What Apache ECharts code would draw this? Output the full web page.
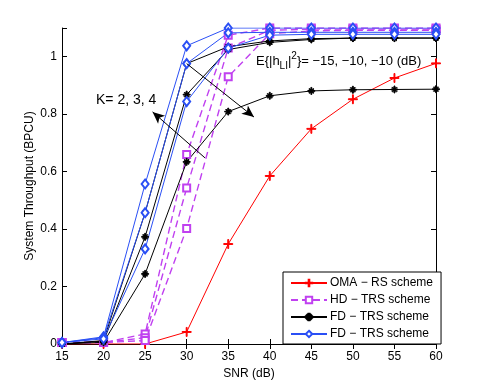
<!DOCTYPE html>
<html lang="en">
<head>
    <meta charset="UTF-8">
    <title>System throughput vs SNR</title>
    <script src="https://cdn.jsdelivr.net/npm/echarts@6/dist/echarts.min.js"></script>
    <style>
        html, body { margin: 0; padding: 0; background: #fff; }
        #main { width: 482px; height: 388px; }
    </style>
</head>
<body>
<div id="main"></div>

<script type="text/javascript">
    // 横轴 SNR
    var snr = [15, 20, 25, 30, 35, 40, 45, 50, 55, 60];
    var yTicks = [0, 0.2, 0.4, 0.6, 0.8, 1];

    // OMA - RS
    var oma = [0, 0, 0, 0.042, 0.348, 0.585, 0.749, 0.852, 0.926, 0.977];

    // HD - TRS (三条)
    var hd1 = [0.005, 0.005, 0.035, 0.660, 1.075, 1.100, 1.100, 1.100, 1.100, 1.100];
    var hd2 = [0.005, 0.005, 0.022, 0.543, 1.030, 1.092, 1.096, 1.096, 1.096, 1.096];
    var hd3 = [0.005, 0.005, 0.012, 0.402, 0.930, 1.080, 1.090, 1.092, 1.092, 1.092];

    // FD - TRS, 黑色星号 (E{|h_LI|^2})
    var fdA1 = [0, 0.012, 0.457, 0.976, 1.035, 1.055, 1.063, 1.065, 1.065, 1.065];
    var fdA2 = [0, 0.010, 0.373, 0.868, 1.025, 1.050, 1.060, 1.065, 1.065, 1.065];
    var fdA3 = [0, 0.006, 0.244, 0.634, 0.809, 0.864, 0.881, 0.885, 0.886, 0.887];

    // FD - TRS, 蓝色菱形 (K = 2, 3, 4)
    var fdB1 = [0.005, 0.025, 0.557, 1.038, 1.100, 1.100, 1.100, 1.100, 1.100, 1.100];
    var fdB2 = [0.005, 0.022, 0.457, 0.976, 1.083, 1.085, 1.085, 1.085, 1.085, 1.085];
    var fdB3 = [0.005, 0.018, 0.331, 0.844, 1.030, 1.075, 1.078, 1.078, 1.078, 1.078];

    var names = ['OMA \u2212 RS scheme', 'HD \u2212 TRS scheme', 'FD \u2212 TRS scheme', 'FD \u2212 TRS scheme '];

    var FONT = 'Liberation Sans, Arial, Helvetica, sans-serif';
    var PLUS = 'path://M-1,-0.1L1,-0.1L1,0.1L-1,0.1Z M-0.1,-1L0.1,-1L0.1,1L-0.1,1Z';
    var STAR = 'path://M-1,-0.13L1,-0.13L1,0.13L-1,0.13Z M-0.13,-1L0.13,-1L0.13,1L-0.13,1Z' +
        ' M-0.551,-0.721L0.721,0.551L0.551,0.721L-0.721,-0.551Z' +
        ' M-0.721,0.551L0.551,-0.721L0.721,-0.551L-0.551,0.721Z';

    function pairs(ys) {
        return snr.map(function (x, i) { return [x, ys[i]]; });
    }

    function mkLine(name, ys, color, symbol, size, dashed) {
        return {
            name: name,
            type: 'line',
            data: pairs(ys),
            symbol: symbol,
            symbolSize: size,
            symbolKeepAspect: true,
            showAllSymbol: true,
            lineStyle: { color: color, width: dashed ? 1.4 : 1, type: dashed ? [7, 4] : 'solid' },
            itemStyle: { color: color, borderColor: color, borderWidth: 1 },
            emphasis: { disabled: true },
            animation: false
        };
    }

    var red = '#ff0000', purple = '#c040f0', black = '#000000', blue = '#2a4ff5';

    var series = [
        mkLine(names[0], oma, red, PLUS, 9, false),
        mkLine(names[1], hd1, purple, 'emptyRect', 7, true),
        mkLine(names[1], hd2, purple, 'emptyRect', 7, true),
        mkLine(names[1], hd3, purple, 'emptyRect', 7, true),
        mkLine(names[2], fdA1, black, STAR, 7, false),
        mkLine(names[2], fdA2, black, STAR, 7, false),
        mkLine(names[2], fdA3, black, STAR, 7, false),
        mkLine(names[3], fdB1, blue, 'emptyDiamond', [7, 9], false),
        mkLine(names[3], fdB2, blue, 'emptyDiamond', [7, 9], false),
        mkLine(names[3], fdB3, blue, 'emptyDiamond', [7, 9], false)
    ];

    // 两个箭头标注
    series[0].markLine = {
        silent: true,
        animation: false,
        symbol: ['none', 'arrow'],
        symbolSize: [8, 12],
        label: { show: false },
        lineStyle: { color: '#000', width: 1, type: 'solid' },
        data: [
            [{ coord: [32.2, 0.648] }, { coord: [25.9, 0.808] }],
            [{ coord: [30.0, 0.976] }, { coord: [38.1, 0.790] }]
        ]
    };

    var axisLabelStyle = { color: '#000', fontSize: 12, fontFamily: FONT };

    var myChart = echarts.init(document.getElementById('main'), null, { renderer: 'canvas' });

    var option = {
        backgroundColor: '#fff',
        animation: false,
        grid: { left: 62, right: 46, top: 28, bottom: 44, containLabel: false },
        legend: {
            data: names,
            orient: 'vertical',
            left: 283,
            top: 272,
            width: 153,
            padding: [5, 8, 4, 7],
            itemGap: 5,
            itemWidth: 36,
            itemHeight: 8,
            backgroundColor: '#fff',
            borderColor: '#000',
            borderWidth: 1,
            borderRadius: 0,
            textStyle: { color: '#000', fontSize: 12, lineHeight: 12, fontFamily: FONT, padding: [0, 0, 0, -2] }
        },
        xAxis: [
            {
                type: 'value',
                min: 15, max: 60, interval: 5,
                name: 'SNR (dB)',
                nameLocation: 'middle',
                nameGap: 23,
                nameTextStyle: axisLabelStyle,
                axisLine: { lineStyle: { color: '#000', width: 1 } },
                axisTick: { inside: true, length: 5, lineStyle: { color: '#000' } },
                axisLabel: Object.assign({ margin: 7 }, axisLabelStyle),
                splitLine: { show: false }
            },
            {
                type: 'value', position: 'top',
                min: 15, max: 60, interval: 5,
                axisLine: { show: true, lineStyle: { color: '#000', width: 1 } },
                axisTick: { inside: true, length: 5, lineStyle: { color: '#000' } },
                axisLabel: { show: false },
                splitLine: { show: false }
            }
        ],
        yAxis: [
            {
                type: 'value',
                min: 0, max: 1.1, interval: 0.2,
                name: 'System Throughput (BPCU)',
                nameLocation: 'middle',
                nameGap: 26,
                nameMoveOverlap: false,
                nameTextStyle: axisLabelStyle,
                axisLine: { show: true, lineStyle: { color: '#000', width: 1 } },
                axisTick: { inside: true, length: 5, lineStyle: { color: '#000' } },
                axisLabel: Object.assign({
                    margin: 5,
                    formatter: function (v) {
                        var r = Math.round(v * 10) / 10;
                        return yTicks.indexOf(r) >= 0 && Math.abs(v - r) < 1e-6 ? String(r) : '';
                    }
                }, axisLabelStyle),
                splitLine: { show: false }
            },
            {
                type: 'value', position: 'right',
                min: 0, max: 1.1, interval: 0.2,
                axisLine: { show: true, lineStyle: { color: '#000', width: 1 } },
                axisTick: { inside: true, length: 5, lineStyle: { color: '#000' } },
                axisLabel: { show: false },
                splitLine: { show: false }
            }
        ],
        graphic: [
            {
                type: 'text',
                left: 96, top: 93,
                silent: true,
                style: { text: 'K= 2, 3, 4', fill: '#000', font: '14px ' + FONT }
            },
            {
                type: 'text',
                left: 256, top: 50,
                silent: true,
                style: {
                    text: 'E{|h{s|LI}|{p|2}}= \u221215, \u221210, \u221210 (dB)',
                    fill: '#000',
                    font: '13px ' + FONT,
                    lineHeight: 22,
                    rich: {
                        s: { fontSize: 10, fontFamily: FONT, fill: '#000', lineHeight: 22, verticalAlign: 'bottom', padding: [0, 0, 1, 0] },
                        p: { fontSize: 10, fontFamily: FONT, fill: '#000', lineHeight: 22, verticalAlign: 'top', padding: [1, 0, 0, 0] }
                    }
                }
            }
        ],
        series: series
    };

    myChart.setOption(option);
</script>
</body>
</html>
